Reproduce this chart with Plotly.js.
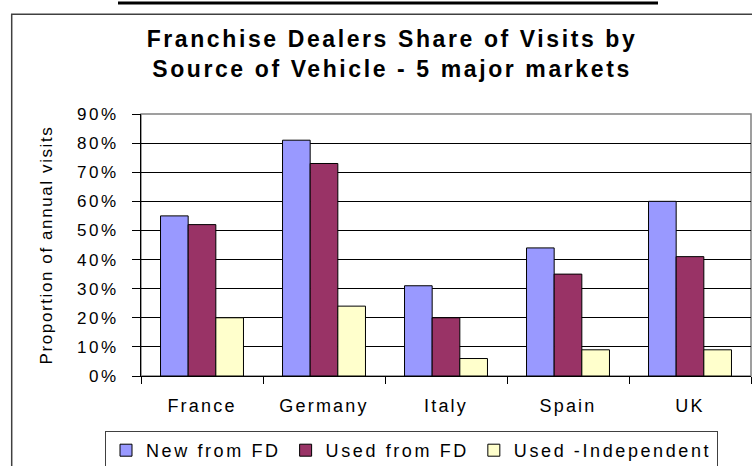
<!DOCTYPE html>
<html>
<head>
<meta charset="utf-8">
<script src="https://cdn.plot.ly/plotly-3.0.1.min.js"></script>
<style>
  html, body { margin: 0; padding: 0; background: #fff; }
  #chart { width: 752px; height: 466px; }
  .gtitle { letter-spacing: 2.6px; }
  .xtick text { letter-spacing: 2.2px; }
  .ytick text { letter-spacing: 2.5px; }
  .ytitle { letter-spacing: 1.6px; }
  .legendtext { letter-spacing: 2.6px; }
</style>
</head>
<body>
<div id="chart"></div>
<script>
const categories = ['France', 'Germany', 'Italy', 'Spain', 'UK'];
const seriesNames = ['New from FD', 'Used from FD', 'Used -Independent'];
const newFromFD = [0.55, 0.81, 0.31, 0.44, 0.60];
const usedFromFD = [0.52, 0.73, 0.20, 0.35, 0.41];
const usedIndependent = [0.20, 0.24, 0.06, 0.09, 0.09];
const yTickValues = [0, 0.1, 0.2, 0.3, 0.4, 0.5, 0.6, 0.7, 0.8, 0.9];

const colors = ['#9999FF', '#993366', '#FFFFCC'];
const seriesValues = [newFromFD, usedFromFD, usedIndependent];

const FONT = 'Liberation Sans, Arial, sans-serif';

const data = seriesValues.map((vals, i) => ({
  type: 'bar',
  name: seriesNames[i],
  x: categories,
  y: vals,
  marker: { color: colors[i], line: { color: '#000000', width: 1 } },
  hoverinfo: 'x+y+name'
}));

const layout = {
  width: 752,
  height: 466,
  margin: { l: 141, r: 1, t: 114, b: 90, pad: 0 },
  paper_bgcolor: '#ffffff',
  plot_bgcolor: '#ffffff',
  font: { family: FONT, color: '#000000', size: 17 },
  title: {
    text: 'Franchise Dealers Share of Visits by<br>Source of Vehicle - 5 major markets',
    font: { family: FONT, size: 23, weight: 'bold', color: '#000000' },
    x: 392 / 752,
    xanchor: 'center',
    xref: 'container',
    y: 1 - 47 / 466,
    yref: 'container',
    yanchor: 'top'
  },
  barmode: 'group',
  bargap: 0.32,
  bargroupgap: 0,
  xaxis: {
    type: 'category',
    tickson: 'boundaries',
    ticks: 'outside',
    ticklen: 7,
    tickcolor: '#000000',
    tickwidth: 1,
    showline: true,
    linecolor: '#000000',
    linewidth: 1,
    showgrid: false,
    tickfont: { family: FONT, size: 18, color: '#000000' },
    ticklabelstandoff: 13,
    fixedrange: true
  },
  yaxis: {
    range: [0, 0.9],
    tickvals: yTickValues,
    tickformat: '.0%',
    ticks: 'outside',
    ticklen: 8,
    tickcolor: '#000000',
    tickwidth: 1,
    showline: true,
    linecolor: '#000000',
    linewidth: 1,
    showgrid: true,
    gridcolor: '#000000',
    gridwidth: 1,
    zeroline: false,
    tickfont: { family: FONT, size: 17, color: '#000000' },
    ticklabelstandoff: 10,
    automargin: true,
    title: {
      text: 'Proportion of annual visits',
      font: { family: FONT, size: 17, color: '#000000' },
      standoff: 20
    },
    fixedrange: true
  },
  showlegend: true,
  legend: {
    orientation: 'h',
    xref: 'container',
    yref: 'container',
    x: 105 / 752,
    xanchor: 'left',
    y: (466 - 431) / 466,
    yanchor: 'top',
    bgcolor: '#ffffff',
    bordercolor: '#404040',
    borderwidth: 1,
    font: { family: FONT, size: 18, color: '#000000' },
    traceorder: 'normal'
  },
  shapes: [
    { type: 'rect', xref: 'paper', yref: 'paper', x0: 0, x1: 1, y0: 0, y1: 1,
      line: { color: '#808080', width: 1.5 }, layer: 'below' },
    { type: 'rect', xref: 'paper', yref: 'paper',
      x0: (11.7 - 141) / 610, x1: 1.05, y0: -0.5, y1: (376 - 14.3) / 262,
      line: { color: '#404040', width: 1.5 }, layer: 'below' },
    { type: 'line', xref: 'paper', yref: 'paper',
      x0: (118 - 141) / 610, x1: (658 - 141) / 610,
      y0: (376 - 3) / 262, y1: (376 - 3) / 262,
      line: { color: '#000000', width: 3 } }
  ]
};

Plotly.newPlot('chart', data, layout, { displayModeBar: false, staticPlot: false });
</script>
</body>
</html>
